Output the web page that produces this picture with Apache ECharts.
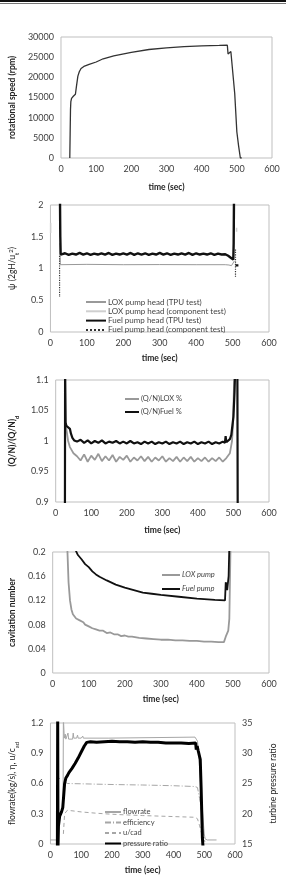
<!DOCTYPE html>
<html>
<head>
<meta charset="utf-8">
<script src="https://cdn.jsdelivr.net/npm/echarts@6/dist/echarts.min.js"></script>
<style>
  html, body { margin: 0; padding: 0; background: #fff; }
  #chart { width: 286px; height: 876px; }
</style>
</head>
<body>
<div id="chart"></div>
<script>
// ---- panel 1: rotational speed (rpm) vs time
var speedRpm = [[25, 0], [26, 6000], [27, 12000], [28, 14000], [30, 14800], [35, 15300], [41, 15800], [44, 17800],
  [48, 20300], [52, 21400], [57, 22200], [65, 22700], [80, 23200], [100, 23800], [120, 24600], [150, 25300],
  [200, 26200], [250, 26900], [300, 27300], [350, 27600], [400, 27800], [450, 27900], [473, 27950], [475, 25800],
  [479, 26200], [483, 26400], [487, 26000], [494, 16000], [500, 6500], [505, 3000], [510, 0], [514, 0]]

// ---- panel 2: head coefficient
var loxHeadTpu = [[26, 1.4], [27, 1.06], [100, 1.065], [200, 1.06], [300, 1.062], [400, 1.06], [480, 1.06],
  [490, 1.055], [497, 1.045], [502, 1.04], [505, 1.12]]
var loxHeadComp = [[0.5, 1.56], [0.5, 1.72], [5, '-'], [511, 1.58], [511, 1.64]]
var fuelHeadTpu = [[26, 2.2], [27, 1.5], [28, 1.22], [30, 1.215], [40, 1.24], [50, 1.215], [60, 1.235], [70, 1.22],
  [80, 1.245], [90, 1.22], [100, 1.24], [110, 1.215], [120, 1.235], [130, 1.22], [140, 1.24], [150, 1.22],
  [160, 1.245], [170, 1.215], [180, 1.235], [190, 1.22], [200, 1.24], [210, 1.22], [220, 1.245], [230, 1.215],
  [240, 1.24], [250, 1.22], [260, 1.24], [270, 1.215], [280, 1.235], [290, 1.22], [300, 1.245], [310, 1.22],
  [320, 1.24], [330, 1.215], [340, 1.235], [350, 1.22], [360, 1.24], [370, 1.22], [380, 1.245], [390, 1.215],
  [400, 1.24], [410, 1.22], [420, 1.235], [430, 1.22], [440, 1.24], [450, 1.215], [460, 1.235], [470, 1.22],
  [480, 1.225], [488, 1.2], [495, 1.17], [500, 1.15], [502, 1.14], [503, 1.4], [504, 2.2], [506, '-'],
  [508, 1.05], [511, 1.06], [516, 1.05]]
var fuelHeadComp = [[25, 1.2], [25, 0.55], [26, '-'], [508, 1.3], [508, 0.87]]

// ---- panel 3: (Q/N)/(Q/N)d
var loxQn = [[28, 1.03], [30, 1.02], [35, 1.0], [40, 0.99], [45, 0.985], [50, 0.98], [55, 0.978],
  [60, 0.975], [70, 0.968], [80, 0.978], [90, 0.966], [100, 0.976], [110, 0.969], [120, 0.979], [130, 0.967],
  [140, 0.975], [150, 0.968], [160, 0.977], [170, 0.966], [180, 0.974], [190, 0.969], [200, 0.976], [210, 0.966],
  [220, 0.973], [230, 0.968], [240, 0.975], [250, 0.967], [260, 0.974], [270, 0.966], [280, 0.973], [290, 0.968],
  [300, 0.975], [310, 0.966], [320, 0.972], [330, 0.967], [340, 0.974], [350, 0.966], [360, 0.973], [370, 0.967],
  [380, 0.974], [390, 0.966], [400, 0.972], [410, 0.967], [420, 0.973], [430, 0.966], [440, 0.972], [450, 0.967],
  [460, 0.973], [470, 0.966], [480, 0.972], [485, 0.975], [490, 0.98], [493, 0.99], [496, 1.0], [499, 1.03],
  [501, 1.08], [503, 1.12]]
var fuelQn = [[26, 0.88], [26.5, 1.12], [28, 1.03], [30, 1.025], [35, 1.022], [40, 1.02], [43, 1.012], [47, 1.005],
  [52, 1.001], [60, 0.999], [70, 1.002], [80, 0.997], [90, 1.001], [100, 0.996], [110, 1.0], [120, 0.997],
  [130, 1.001], [140, 0.996], [150, 0.999], [160, 0.997], [170, 1.0], [180, 0.996], [190, 0.999], [200, 0.996],
  [210, 1.0], [220, 0.996], [230, 0.998], [240, 0.995], [250, 0.999], [260, 0.996], [270, 0.999], [280, 0.995],
  [290, 0.998], [300, 0.996], [310, 0.999], [320, 0.995], [330, 0.998], [340, 0.996], [350, 0.999], [360, 0.995],
  [370, 0.998], [380, 0.996], [390, 0.999], [400, 0.995], [410, 0.998], [420, 0.996], [430, 0.999], [440, 0.995],
  [450, 0.998], [460, 0.996], [470, 0.999], [476, 0.997], [478, 1.008], [480, 0.998], [485, 1.0], [490, 1.003],
  [494, 1.01], [497, 1.025], [500, 1.04], [503, 1.08], [505, 1.12], [511, 1.12], [512, 0.88]]

// ---- panel 4: cavitation number
var loxCav = [[38, 0.25], [41, 0.2], [44, 0.15], [48, 0.12], [52, 0.105], [56, 0.097], [60, 0.094], [65, 0.09],
  [70, 0.088], [75, 0.087], [80, 0.084], [85, 0.084], [90, 0.08], [95, 0.081], [100, 0.077], [105, 0.078],
  [110, 0.074], [115, 0.075], [120, 0.072], [125, 0.073], [130, 0.07], [140, 0.07], [150, 0.066], [160, 0.067],
  [170, 0.064], [180, 0.064], [190, 0.061], [200, 0.062], [210, 0.06], [220, 0.06], [240, 0.058], [260, 0.057],
  [280, 0.056], [300, 0.055], [320, 0.055], [340, 0.054], [360, 0.054], [380, 0.053], [400, 0.053], [420, 0.052],
  [440, 0.052], [460, 0.051], [475, 0.051], [478, 0.053], [480, 0.06], [483, 0.063], [487, 0.07], [490, 0.09],
  [493, 0.2], [495, 0.25]]
var fuelCav = [[62, 0.205], [70, 0.195], [80, 0.188], [90, 0.18], [100, 0.175], [110, 0.168], [120, 0.163],
  [130, 0.159], [150, 0.153], [175, 0.146], [200, 0.141], [225, 0.137], [250, 0.133], [275, 0.131], [300, 0.129],
  [350, 0.126], [400, 0.123], [450, 0.121], [478, 0.12], [480, 0.15], [482, 0.145], [484, 0.137], [486, 0.14],
  [488, 0.16], [490, 0.21]]

// ---- panel 5: turbine
var flowrate = [[0, 0.04], [24, 0.04], [25, '-'], [41, 0.4], [42, 1.25], [44, 1.25], [45, 1.05], [48, 1.09],
  [50, 1.04], [55, 1.04], [57, 1.1], [59, 1.04], [65, 1.05], [72, 1.04], [74, 1.1], [76, 1.05], [85, 1.05],
  [88, 1.08], [90, 1.05], [100, 1.05], [105, 1.07], [107, 1.05], [190, 1.05], [193, 1.06], [470, 1.06],
  [474, 1.04], [478, 1.02], [482, 0.9], [488, 0.6], [495, 0.3], [500, 0.1], [503, 0.05], [510, 0.04], [540, 0.04]]
var efficiency = [[28, 0.65], [31, 0.65], [32, '-'], [45, 0.62], [55, 0.6], [100, 0.597], [200, 0.59],
  [300, 0.585], [400, 0.578], [470, 0.57], [478, 0.56], [485, 0.45], [492, 0.3], [498, 0.1], [502, 0.02]]
var uCad = [[42, 0.1], [46, 0.3], [55, 0.335], [60, 0.332], [100, 0.318], [150, 0.305], [200, 0.295], [250, 0.288],
  [300, 0.282], [350, 0.277], [400, 0.272], [470, 0.265], [478, 0.25], [485, 0.18], [492, 0.1], [498, 0.03]]
var pressureRatio = [[22.5, 14], [23.5, 36], [24.5, 14.5], [26, 18], [30, 19.6], [36, 20.3], [40, 21], [43, 23],
  [46, 25], [50, 25.9], [55, 26.3], [60, 26.8], [70, 27.5], [80, 28.3], [90, 29.2], [100, 30.2], [110, 31.2],
  [118, 31.8], [130, 31.9], [150, 31.8], [175, 31.9], [200, 32.0], [225, 31.9], [250, 31.9], [275, 31.8],
  [300, 31.9], [325, 31.8], [350, 31.8], [375, 31.7], [400, 31.7], [425, 31.7], [450, 31.6], [472, 31.7],
  [474, 30.6], [477, 31.2], [480, 30.5], [485, 30.3], [487, 29], [490, 24], [494, 16], [496, 14.5]]

var FONT = 'Lato'
var GRAY = '#999999'

function xAxis(gridIndex, nameGap) {
  return {
    type: 'value', gridIndex: gridIndex, min: 0, max: 600, interval: 100,
    axisLine: { show: false }, axisTick: { show: false }, splitLine: { show: false },
    axisLabel: { fontSize: 9, color: '#404040', margin: 7, fontFamily: FONT },
    name: 'time (sec)', nameLocation: 'middle', nameGap: nameGap,
    nameTextStyle: { fontSize: 8.5, fontWeight: 'bold', color: '#222', fontFamily: FONT }
  }
}

function yAxis(gridIndex, min, max, interval, name, nameGap, bold, rich) {
  return {
    type: 'value', gridIndex: gridIndex, min: min, max: max, interval: interval,
    axisLine: { show: false }, axisTick: { show: false }, splitLine: { show: false },
    axisLabel: {
      fontSize: 9, color: '#404040', margin: 7, fontFamily: FONT,
      formatter: function(v) { return String(+v.toFixed(3)) }
    },
    name: name, nameLocation: 'middle', nameGap: nameGap,
    nameTextStyle: {
      fontSize: 8.5, fontWeight: bold ? 'bold' : 'normal', color: '#222', fontFamily: FONT,
      rich: rich
    }
  }
}

function line(name, data, xi, yi, color, width, type) {
  return {
    name: name, type: 'line', data: data, xAxisIndex: xi, yAxisIndex: yi,
    showSymbol: false, symbol: 'none', clip: true, animation: false,
    itemStyle: { color: color },
    lineStyle: { color: color, width: width, type: type || 'solid' }
  }
}

function legend(names, left, top, itemWidth, itemGap, fontSize, italic) {
  return {
    data: names, orient: 'vertical', left: left, top: top,
    itemWidth: itemWidth, itemHeight: 8, itemGap: itemGap, selectedMode: false,
    itemStyle: { opacity: 0 },
    textStyle: { fontSize: fontSize, color: '#444', fontFamily: FONT, fontStyle: italic ? 'italic' : 'normal', padding: [0, 0, 0, -3] }
  }
}

var subRich = {
  sub: { fontSize: 6, verticalAlign: 'bottom', color: '#222', fontFamily: FONT, padding: [0, 0, -3, 0] },
  sup: { fontSize: 6, verticalAlign: 'top', color: '#222', fontFamily: FONT }
}

var gridStyle = { show: true, borderColor: '#bfbfbf', borderWidth: 1, backgroundColor: '#fff' }

var chart = echarts.init(document.getElementById('chart'))
chart.setOption({
  backgroundColor: '#fff',
  animation: false,
  graphic: [
    { type: 'rect', shape: { x: 0, y: 0, width: 286, height: 2 }, style: { fill: '#111' } },
    { type: 'rect', shape: { x: 0, y: 3, width: 286, height: 1 }, style: { fill: '#777' } }
  ],
  grid: [
    Object.assign({ left: 48, top: 37, width: 224, height: 121 }, gridStyle),
    Object.assign({ left: 47, top: 205, width: 222, height: 127 }, gridStyle),
    Object.assign({ left: 43, top: 380, width: 226, height: 122 }, gridStyle),
    Object.assign({ left: 43, top: 552, width: 226, height: 121 }, gridStyle),
    Object.assign({ left: 45, top: 723, width: 213, height: 121 }, gridStyle)
  ],
  xAxis: [xAxis(0, 25), xAxis(1, 22), xAxis(2, 24), xAxis(3, 22), xAxis(4, 22)],
  yAxis: [
    yAxis(0, 0, 30000, 5000, 'rotational speed (rpm)', 39, true),
    yAxis(1, 0, 2, 0.5, 'ψ (2gH/u{sub|t}{sup|2})', 27, false, subRich),
    yAxis(2, 0.9, 1.1, 0.05, '(Q/N)/(Q/N){sub|d}', 31, true, subRich),
    yAxis(3, 0, 0.2, 0.04, 'cavitation number', 31, true),
    yAxis(4, 0, 1.2, 0.3, 'flowrate(kg/s), η, u/c{sub|ad}', 26, false, subRich),
    Object.assign(yAxis(4, 15, 35, 5, 'turbine pressure ratio', 34, false), { position: 'right', nameRotate: 90 })
  ],
  legend: [
    legend(['LOX pump head (TPU test)', 'LOX pump head (component test)', 'Fuel pump head (TPU test)', 'Fuel pump head (component test)'], 80, 293, 20, 1.3, 8),
    legend(['(Q/N)LOX %', '(Q/N)Fuel %'], 119, 390, 14, 5, 7.5),
    legend(['LOX pump', 'Fuel pump'], 156, 566, 18, 6, 7.5, true),
    legend(['flowrate', 'efficiency', 'u/cad', 'pressure ratio'], 99, 803, 16, 2.5, 7.5)
  ],
  series: [
    line('rotational speed', speedRpm, 0, 0, '#333', 1.3),

    line('LOX pump head (TPU test)', loxHeadTpu, 1, 1, GRAY, 1),
    line('LOX pump head (component test)', loxHeadComp, 1, 1, '#cfcfcf', 1.5),
    line('Fuel pump head (TPU test)', fuelHeadTpu, 1, 1, '#111', 2.4),
    line('Fuel pump head (component test)', fuelHeadComp, 1, 1, '#333', 1.2, 'dotted'),

    line('(Q/N)LOX %', loxQn, 2, 2, GRAY, 1.8),
    line('(Q/N)Fuel %', fuelQn, 2, 2, '#111', 2.2),

    line('LOX pump', loxCav, 3, 3, GRAY, 1.8),
    line('Fuel pump', fuelCav, 3, 3, '#111', 1.8),

    line('flowrate', flowrate, 4, 4, '#a6a6a6', 1),
    line('efficiency', efficiency, 4, 4, '#a6a6a6', 1, [6, 2, 1, 2]),
    line('u/cad', uCad, 4, 4, '#a6a6a6', 1, [4, 3]),
    line('pressure ratio', pressureRatio, 4, 5, '#000', 3)
  ]
})
</script>
</body>
</html>
